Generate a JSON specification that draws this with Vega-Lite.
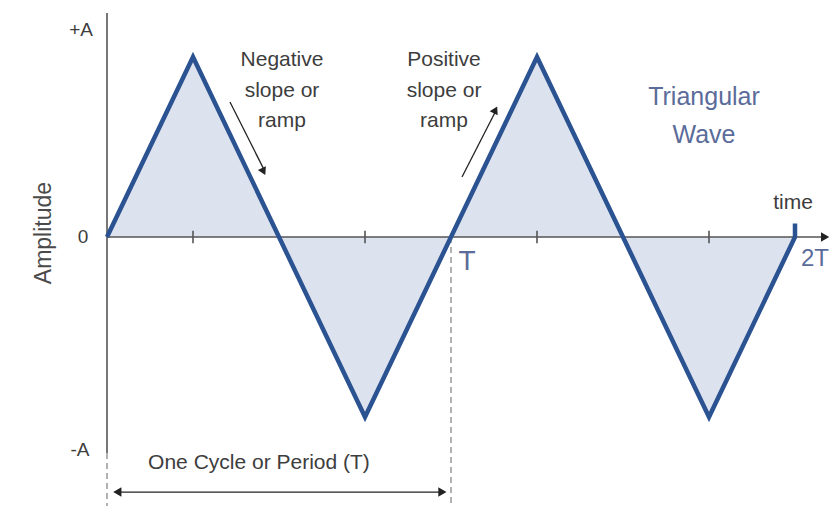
{
  "$schema": "https://vega.github.io/schema/vega-lite/v6.json",
  "width": 830,
  "height": 506,
  "padding": 0,
  "autosize": {"type": "none"},
  "background": "white",
  "config": {"view": {"stroke": null}, "text": {"font": "Liberation Sans"}},
  "encoding": {
    "x": {"field": "x", "type": "quantitative", "axis": null, "scale": {"domain": [-1.2442, 8.407], "nice": false, "zero": false}},
    "y": {"field": "y", "type": "quantitative", "axis": null, "scale": {"domain": [-1.4944, 1.3167], "nice": false, "zero": false}}
  },
  "layer": [
    {
      "data": {"values": [
        {"x": 0, "y": 0}, {"x": 1, "y": 1}, {"x": 2, "y": 0}, {"x": 3, "y": -1}, {"x": 4, "y": 0},
        {"x": 5, "y": 1}, {"x": 6, "y": 0}, {"x": 7, "y": -1}, {"x": 8, "y": 0}
      ]},
      "mark": {"type": "area", "color": "#dde3ee", "opacity": 1},
      "encoding": {"y2": {"datum": 0}}
    },
    {
      "data": {"values": [
        {"x": 4, "x2": 4, "y": 0, "y2": -1.4944},
        {"x": 0, "x2": 0, "y": -1.2, "y2": -1.4944}
      ]},
      "mark": {"type": "rule", "color": "#888888", "strokeWidth": 1.3, "strokeDash": [6, 4]},
      "encoding": {"x2": {"field": "x2"}, "y2": {"field": "y2"}}
    },
    {
      "data": {"values": [
        {"x": 0, "x2": 8.33, "y": 0, "y2": 0},
        {"x": 0, "x2": 0, "y": 1.244, "y2": -1.2},
        {"x": 1, "x2": 1, "y": 0.035, "y2": -0.035},
        {"x": 3, "x2": 3, "y": 0.035, "y2": -0.035},
        {"x": 5, "x2": 5, "y": 0.035, "y2": -0.035},
        {"x": 7, "x2": 7, "y": 0.035, "y2": -0.035}
      ]},
      "mark": {"type": "rule", "color": "#555555", "strokeWidth": 1.6},
      "encoding": {"x2": {"field": "x2"}, "y2": {"field": "y2"}}
    },
    {
      "data": {"values": [
        {"x": 0, "y": 0}, {"x": 1, "y": 1}, {"x": 2, "y": 0}, {"x": 3, "y": -1}, {"x": 4, "y": 0},
        {"x": 5, "y": 1}, {"x": 6, "y": 0}, {"x": 7, "y": -1}, {"x": 8, "y": 0}, {"x": 8, "y": 0.075}
      ]},
      "mark": {"type": "line", "color": "#2b5291", "strokeWidth": 4.5, "strokeJoin": "miter"},
      "encoding": {"order": {"field": "x", "type": "quantitative"}}
    },
    {
      "data": {"values": [
        {"x": 1.43, "x2": 1.82, "y": 0.75, "y2": 0.38},
        {"x": 4.128, "x2": 4.51, "y": 0.333, "y2": 0.69},
        {"x": 0.12, "x2": 3.9, "y": -1.417, "y2": -1.417}
      ]},
      "mark": {"type": "rule", "color": "#222222", "strokeWidth": 1.3},
      "encoding": {"x2": {"field": "x2"}, "y2": {"field": "y2"}}
    },
    {
      "data": {"values": [{"x": 8.35, "y": 0}, {"x": 3.9, "y": -1.417}]},
      "mark": {"type": "point", "shape": "triangle-right", "filled": true, "color": "#222222", "size": 90, "opacity": 1}
    },
    {
      "data": {"values": [{"x": 0.12, "y": -1.417}]},
      "mark": {"type": "point", "shape": "triangle-left", "filled": true, "color": "#222222", "size": 90, "opacity": 1}
    },
    {
      "data": {"values": [{"x": 1.814, "y": 0.37}]},
      "mark": {"type": "point", "shape": "triangle", "angle": 154, "filled": true, "color": "#222222", "size": 80, "opacity": 1}
    },
    {
      "data": {"values": [{"x": 4.51, "y": 0.7}]},
      "mark": {"type": "point", "shape": "triangle", "angle": 27, "filled": true, "color": "#222222", "size": 80, "opacity": 1}
    },
    {
      "data": {"values": [
        {"x": -0.302, "y": 1.15, "label": "+A"},
        {"x": -0.279, "y": 0, "label": "0"},
        {"x": -0.314, "y": -1.183, "label": "-A"}
      ]},
      "mark": {"type": "text", "fontSize": 19, "color": "#3d3d3d", "align": "center", "baseline": "middle"},
      "encoding": {"text": {"field": "label"}}
    },
    {
      "data": {"values": [
        {"x": 2.035, "y": 0.983, "label": "Negative"},
        {"x": 2.035, "y": 0.811, "label": "slope or"},
        {"x": 2.035, "y": 0.644, "label": "ramp"},
        {"x": 3.919, "y": 0.983, "label": "Positive"},
        {"x": 3.919, "y": 0.811, "label": "slope or"},
        {"x": 3.919, "y": 0.644, "label": "ramp"},
        {"x": 1.767, "y": -1.256, "label": "One Cycle or Period (T)"},
        {"x": 7.977, "y": 0.189, "label": "time"}
      ]},
      "mark": {"type": "text", "fontSize": 21, "color": "#3d3d3d", "align": "center", "baseline": "middle"},
      "encoding": {"text": {"field": "label"}}
    },
    {
      "data": {"values": [{"x": -0.733, "y": 0.022, "label": "Amplitude"}]},
      "mark": {"type": "text", "fontSize": 23, "angle": 270, "color": "#4a4a4a", "align": "center", "baseline": "middle"},
      "encoding": {"text": {"field": "label"}}
    },
    {
      "data": {"values": [
        {"x": 6.942, "y": 0.778, "label": "Triangular"},
        {"x": 6.942, "y": 0.567, "label": "Wave"}
      ]},
      "mark": {"type": "text", "fontSize": 25, "color": "#5b6c9a", "align": "center", "baseline": "middle"},
      "encoding": {"text": {"field": "label"}}
    },
    {
      "data": {"values": [{"x": 4.186, "y": -0.139, "label": "T"}]},
      "mark": {"type": "text", "fontSize": 28, "color": "#5b6c9a", "align": "center", "baseline": "middle"},
      "encoding": {"text": {"field": "label"}}
    },
    {
      "data": {"values": [{"x": 8.07, "y": -0.122, "label": "2T"}]},
      "mark": {"type": "text", "fontSize": 24, "color": "#5b6c9a", "align": "left", "baseline": "middle"},
      "encoding": {"text": {"field": "label"}}
    }
  ]
}
